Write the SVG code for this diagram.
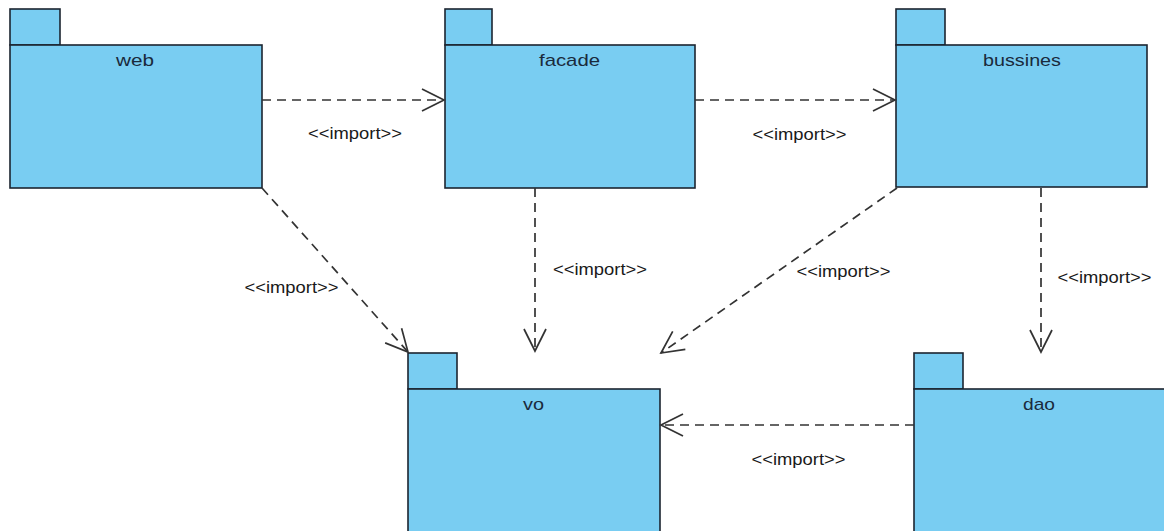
<svg xmlns="http://www.w3.org/2000/svg" width="1164" height="531" viewBox="0 0 1164 531">
  <style>
    .pkg rect { fill: #79cdf2; stroke: #1c2530; stroke-width: 1.6; }
    .name { font-family: "Liberation Sans", Arial, sans-serif; font-size: 17px; fill: #1a2a3c; text-anchor: middle; }
    .dep { fill: none; stroke: #333; stroke-width: 1.7; stroke-dasharray: 9 6; marker-end: url(#open); }
    .lbl { font-family: "Liberation Sans", Arial, sans-serif; font-size: 16.5px; fill: #1a1a1a; text-anchor: middle; }
  </style>
  <defs>
    <marker id="open" markerUnits="userSpaceOnUse" viewBox="-24 -13 26 26" markerWidth="26" markerHeight="26" refX="0" refY="0" orient="auto">
      <path d="M-22,-11 L0,0 L-22,11" fill="none" stroke="#333" stroke-width="1.7" stroke-dasharray="none"/>
    </marker>
  </defs>
  <rect width="1164" height="531" fill="#ffffff"/>

  <g id="web" class="pkg">
    <rect x="10" y="9" width="50" height="36"/>
    <rect x="10" y="45" width="252" height="143"/>
    <text class="name" x="135" y="66" textLength="38" lengthAdjust="spacingAndGlyphs">web</text>
  </g>
  <g id="facade" class="pkg">
    <rect x="445" y="9" width="47" height="36"/>
    <rect x="445" y="45" width="250" height="143"/>
    <text class="name" x="569.5" y="66" textLength="61" lengthAdjust="spacingAndGlyphs">facade</text>
  </g>
  <g id="bussines" class="pkg">
    <rect x="896" y="9" width="49" height="36"/>
    <rect x="896" y="45" width="251" height="142"/>
    <text class="name" x="1022" y="66" textLength="78" lengthAdjust="spacingAndGlyphs">bussines</text>
  </g>
  <g id="vo" class="pkg">
    <rect x="408" y="353" width="49" height="36"/>
    <rect x="408" y="389" width="252" height="150"/>
    <text class="name" x="533.5" y="410" textLength="21" lengthAdjust="spacingAndGlyphs">vo</text>
  </g>
  <g id="dao" class="pkg">
    <rect x="914" y="353" width="49" height="36"/>
    <rect x="914" y="389" width="260" height="150"/>
    <text class="name" x="1039" y="410" textLength="32" lengthAdjust="spacingAndGlyphs">dao</text>
  </g>

  <g id="connectors">
    <path class="dep" d="M262,100 L444,100"/>
    <path class="dep" d="M695,100 L895,100"/>
    <path class="dep" d="M262,188 L408,352"/>
    <path class="dep" d="M535,188 L535,351"/>
    <path class="dep" d="M897,188 L661,353"/>
    <path class="dep" d="M1041,188 L1041,352"/>
    <path class="dep" d="M914,425 L661,425"/>
    <text class="lbl" x="355" y="139" textLength="94" lengthAdjust="spacingAndGlyphs">&lt;&lt;import&gt;&gt;</text>
    <text class="lbl" x="799.5" y="140" textLength="94" lengthAdjust="spacingAndGlyphs">&lt;&lt;import&gt;&gt;</text>
    <text class="lbl" x="291.5" y="293" textLength="94" lengthAdjust="spacingAndGlyphs">&lt;&lt;import&gt;&gt;</text>
    <text class="lbl" x="600" y="275" textLength="94" lengthAdjust="spacingAndGlyphs">&lt;&lt;import&gt;&gt;</text>
    <text class="lbl" x="843.5" y="277" textLength="94" lengthAdjust="spacingAndGlyphs">&lt;&lt;import&gt;&gt;</text>
    <text class="lbl" x="1104.5" y="283" textLength="94" lengthAdjust="spacingAndGlyphs">&lt;&lt;import&gt;&gt;</text>
    <text class="lbl" x="798.5" y="465" textLength="94" lengthAdjust="spacingAndGlyphs">&lt;&lt;import&gt;&gt;</text>
  </g>
</svg>
